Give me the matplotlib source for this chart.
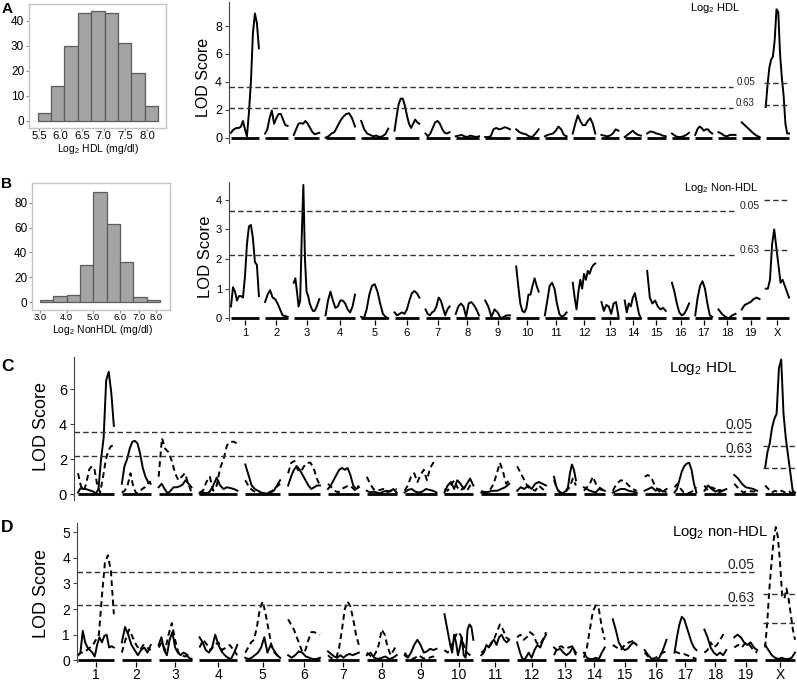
import matplotlib
matplotlib.use("Agg")
import matplotlib.pyplot as plt
import numpy as np

plt.rcParams['font.family'] = ['Liberation Sans', 'DejaVu Sans']
plt.rcParams['mathtext.fontset'] = 'custom'
plt.rcParams['mathtext.rm'] = 'Liberation Sans'

# ---------------- data ----------------
chrom_names = ['1', '2', '3', '4', '5', '6', '7', '8', '9', '10', '11', '12', '13',
               '14', '15', '16', '17', '18', '19', 'X']
chrom_len = [36, 29, 33, 38, 35, 32, 31, 30, 32, 29, 28, 29, 22, 21, 24, 22, 22, 22, 23, 30]
chrom_gap = 8

hdl_edges = [5.47, 5.78, 6.09, 6.40, 6.71, 7.02, 7.33, 7.64, 7.95, 8.26]
hdl_counts = [3, 14, 30, 43, 44, 43, 31, 19, 6]
hdl_ticks = [5.5, 6.0, 6.5, 7.0, 7.5, 8.0]

nonhdl_edges = [3.0, 3.5, 4.0, 4.5, 5.0, 5.5, 6.0, 6.5, 7.0, 7.5]
nonhdl_counts = [2, 5, 6, 30, 89, 63, 32, 4, 2]
nonhdl_tick_pos = [3.0, 4.0, 5.0, 6.0, 6.72, 7.36]
nonhdl_tick_lab = ['3.0', '4.0', '5.0', '6.0', '7.0', '8.0']

lod_A = [
    [0.35, 0.55, 0.65, 0.7, 0.7, 0.8, 1.2, 0.6, 0.1, 1.8, 4.0, 7.5, 8.9, 8.2, 6.4],
    [0.3, 0.6, 1.4, 1.95, 1.0, 1.4, 1.7, 1.7, 1.3, 0.9, 0.85],
    [0.2, 0.6, 1.0, 1.05, 1.0, 1.2, 1.0, 0.7, 0.4, 0.25, 0.3, 0.35],
    [0.0, 0.1, 0.3, 0.4, 0.8, 1.2, 1.5, 1.7, 1.75, 1.4, 0.8],
    [1.2, 0.6, 0.3, 0.2, 0.1, 0.15, 0.05, 0.1, 0.25, 0.65],
    [0.5, 1.5, 2.4, 2.8, 2.8, 2.3, 1.6, 1.0, 0.7, 1.0, 1.3, 1.1, 1.0],
    [0.3, 0.1, 0.3, 0.7, 1.1, 1.2, 1.0, 0.6, 0.35, 0.3, 0.4],
    [0.1, 0.15, 0.2, 0.1, 0.05, 0.15, 0.1, 0.05, 0.1],
    [0.05, 0.05, 0.1, 0.6, 0.7, 0.6, 0.65, 0.75, 0.7, 0.6],
    [0.6, 0.4, 0.3, 0.25, 0.1, 0.05, 0.3, 0.6],
    [0.1, 0.2, 0.25, 0.3, 0.5, 0.8, 0.6, 0.2, 0.1],
    [0.3, 1.0, 1.6, 1.2, 0.9, 0.9, 1.2, 1.4, 1.0, 0.3],
    [0.2, 0.15, 0.1, 0.15, 0.3, 0.6, 0.5],
    [0.05, 0.2, 0.35, 0.5, 0.3, 0.2, 0.15],
    [0.3, 0.45, 0.4, 0.3, 0.25, 0.15, 0.1],
    [0.3, 0.15, 0.05, 0.05, 0.1, 0.2, 0.35],
    [0.2, 0.6, 0.8, 0.7, 0.5, 0.6, 0.6, 0.4, 0.3],
    [0.4, 0.3, 0.15, 0.1, 0.2, 0.2, 0.2],
    [1.1, 0.9, 0.7, 0.5, 0.3, 0.15, 0.05],
    [2.2, 3.8, 5.0, 5.6, 5.8, 7.0, 9.2, 9.0, 6.0, 4.3, 3.0, 1.0, 0.3, 0.3],
]

lod_B = [
    [0.4, 1.05, 0.9, 0.6, 0.75, 0.75, 0.7, 1.4, 2.5, 3.1, 3.15, 2.7, 1.9, 1.8, 0.75],
    [0.55, 0.8, 0.95, 0.7, 0.65, 0.5, 0.3, 0.1, 0.08, 0.05],
    [1.2, 1.35, 0.9, 0.4, 0.6, 2.8, 4.5, 2.0, 0.9, 0.75, 0.5, 0.35, 0.25, 0.25, 0.35, 0.5, 0.65],
    [0.1, 0.6, 0.9, 0.6, 0.35, 0.4, 0.6, 0.6, 0.5, 0.3, 0.2, 0.4, 0.8],
    [0.05, 0.0, 0.3, 0.8, 1.1, 1.15, 0.9, 0.5, 0.15, 0.05, 0.0],
    [0.2, 0.1, 0.15, 0.2, 0.15, 0.3, 0.6, 0.85, 0.92, 0.85, 0.7],
    [0.3, 0.15, 0.1, 0.2, 0.25, 0.4, 0.7, 0.6, 0.35, 0.1, 0.3, 0.4],
    [0.15, 0.4, 0.5, 0.4, 0.05, 0.5, 0.55, 0.45, 0.3, 0.1],
    [0.6, 0.4, 0.05, 0.3, 0.2, 0.0, 0.05, 0.1, 0.1],
    [1.75, 1.1, 0.5, 0.25, 0.2, 0.35, 0.8, 0.8, 1.1, 1.35, 1.1, 0.9],
    [0.1, 0.6, 1.1, 1.2, 1.0, 0.5, 0.15, 0.05, 0.1, 0.2],
    [1.2, 0.7, 0.3, 0.9, 1.3, 1.0, 1.5, 1.3, 1.6, 1.5, 1.7, 1.8, 1.85],
    [0.55, 0.25, 0.45, 0.4, 0.15, 0.5, 0.55, 0.05],
    [0.6, 0.2, 0.5, 0.4, 0.7, 0.85, 0.5, 0.15, 0.0],
    [1.6, 0.7, 0.5, 0.6, 0.4, 0.3, 0.35, 0.25],
    [1.2, 0.9, 0.5, 0.2, 0.1, 0.15, 0.3, 0.5],
    [0.1, 0.7, 1.1, 1.25, 1.0, 0.5, 0.1, 0.05],
    [0.3, 0.15, 0.05, 0.0, 0.1, 0.15],
    [0.3, 0.45, 0.5, 0.55, 0.65, 0.7, 0.65],
    [1.0, 1.0, 1.3, 2.5, 3.0, 2.4, 1.8, 1.2, 1.3, 1.1, 0.9, 0.7],
]

lod_C_solid = [
    [0.1, 0.35, 0.3, 0.3, 0.25, 0.2, 0.15, 0.05, 0.3, 2.0, 3.2, 6.5, 7.0, 5.8, 3.9],
    [0.6, 1.6, 2.0, 2.6, 3.0, 3.05, 2.9, 2.3, 1.5, 1.0, 0.7, 0.6],
    [0.4, 0.6, 0.3, 0.05, 0.2, 0.4, 0.4, 0.45, 0.55, 0.8, 0.6, 0.4],
    [0.05, 0.1, 0.05, 0.15, 0.5, 0.95, 0.5, 0.3, 0.4, 0.35, 0.3, 0.2],
    [1.7, 1.1, 0.5, 0.3, 0.2, 0.1, 0.05, 0.05, 0.1, 0.2, 0.5, 0.8],
    [0.5, 1.0, 1.4, 1.6, 1.4, 1.1, 0.8, 0.5, 0.3, 0.4, 0.5, 0.5],
    [0.3, 0.5, 0.8, 1.1, 1.4, 1.5, 1.4, 1.5, 1.1, 0.5, 0.3, 0.4],
    [0.2, 0.1, 0.15, 0.1, 0.05, 0.15, 0.2, 0.15, 0.3, 0.1],
    [0.1, 0.25, 0.3, 0.15, 0.1, 0.15, 0.3, 0.25, 0.2, 0.1],
    [0.1, 0.5, 0.7, 0.3, 0.8, 0.6, 0.3, 0.6, 0.9, 0.5],
    [0.1, 0.1, 0.15, 0.2, 0.2, 0.3, 0.4, 0.6],
    [0.2, 0.4, 0.3, 0.5, 0.3, 0.6, 0.7, 0.6, 0.5],
    [1.0, 0.5, 0.2, 0.1, 0.05, 0.1, 0.2, 0.4, 1.2, 1.7, 1.4, 0.8],
    [0.4, 0.3, 0.2, 0.15, 0.1, 0.3, 0.25, 0.2],
    [0.1, 0.2, 0.3, 0.3, 0.2, 0.15, 0.1],
    [0.2, 0.3, 0.4, 0.2, 0.3, 0.15, 0.3],
    [0.1, 0.3, 0.8, 1.3, 1.6, 1.75, 1.8, 1.4, 0.6, 0.1],
    [0.2, 0.5, 0.3, 0.15, 0.25, 0.2, 0.3],
    [1.1, 0.9, 0.6, 0.4, 0.35, 0.3, 0.2],
    [1.5, 2.4, 2.9, 3.8, 4.3, 4.6, 7.2, 7.7, 4.6, 3.2, 2.2, 1.2, 0.2, 0.1],
]

lod_C_dashed = [
    [1.2, 0.5, 0.2, 0.6, 1.4, 1.6, 1.4, 0.5, 0.1, 0.9, 1.9, 2.5, 2.75, 2.8],
    [0.1, 0.2, 0.5, 1.2, 0.4, 0.05, 0.1, 0.3, 0.4, 0.6, 0.75],
    [1.0, 3.2, 2.6, 2.4, 1.9, 1.2, 0.8, 1.0, 1.2, 0.6, 0.1],
    [0.1, 0.2, 0.7, 1.0, 0.2, 0.5, 1.5, 2.0, 2.8, 3.0, 3.0, 2.9],
    [0.8, 0.4, 0.2, 0.1, 0.05, 0.05, 0.1, 0.2, 0.4, 0.6],
    [1.2, 1.8, 1.9, 1.4, 1.3, 1.6, 1.8, 1.8, 1.5, 0.9, 0.5],
    [0.6, 0.4, 0.2, 0.1, 0.3, 0.4, 0.5, 0.4, 0.2, 0.5],
    [1.0, 0.6, 0.3, 0.2, 0.25, 0.3, 0.1, 0.2, 0.25, 0.3],
    [0.2, 0.5, 1.0, 1.2, 0.7, 1.1, 1.4, 0.8, 1.5, 1.8, 1.6],
    [0.3, 0.2, 0.5, 0.8, 0.4, 0.2, 0.4, 0.2, 0.5, 0.3],
    [0.2, 0.1, 0.2, 0.3, 0.6, 1.2, 1.8, 1.3, 0.6, 0.8],
    [1.6, 1.2, 0.8, 0.4, 0.3, 0.2, 0.5, 0.3, 0.2],
    [0.8, 0.3, 0.1, 0.1, 0.2, 0.4, 0.9, 0.5],
    [0.2, 0.4, 0.6, 1.0, 0.6, 0.4, 0.3, 0.15],
    [0.2, 0.6, 0.8, 0.75, 0.5, 0.3, 0.2],
    [1.0, 1.1, 1.0, 0.6, 0.3, 0.1, 0.2, 0.1],
    [0.4, 0.6, 0.3, 0.1, 0.05, 0.1, 0.2, 0.4],
    [0.5, 0.2, 0.4, 0.3, 0.1, 0.2, 0.3],
    [0.6, 0.3, 0.1, 0.2, 0.15, 0.2],
    [0.5, 0.3, 0.1, 0.2, 0.1, 0.2, 0.1, 0.2, 0.05, 0.2],
]

lod_D_solid = [
    [0.2, 0.3, 1.15, 0.7, 0.5, 0.4, 0.3, 0.15, 0.6, 0.9, 0.7, 0.95, 1.0, 0.5, 0.55, 0.5],
    [0.7, 1.3, 1.0, 0.6, 0.4, 0.2, 0.4, 0.5, 0.3, 0.6],
    [0.6, 0.9, 0.4, 0.2, 0.8, 1.1, 0.5, 0.3, 0.2, 0.3, 0.25, 0.1, 0.05],
    [0.9, 0.7, 0.4, 0.3, 0.5, 1.0, 0.6, 0.35, 0.2, 0.1, 0.05, 0.3, 0.6],
    [0.1, 0.05, 0.1, 0.2, 0.3, 0.5, 0.9, 0.3, 0.6, 0.4, 0.2, 0.1],
    [0.2, 0.1, 0.2, 0.35, 0.3, 0.15, 0.1, 0.05, 0.05, 0.1],
    [0.35, 0.25, 0.15, 0.1, 0.2, 0.1, 0.2, 0.25, 0.2, 0.25, 0.3],
    [0.2, 0.3, 0.1, 0.05, 0.1, 0.15, 0.05, 0.1, 0.2],
    [0.2, 0.1, 0.3, 0.6, 0.8, 0.6, 0.3, 0.35, 0.45, 0.4, 0.45],
    [1.8, 1.4, 1.0, 0.6, 0.3, 1.0, 0.7, 0.2, 0.5, 0.9, 0.2, 0.1, 1.2, 1.4, 1.3, 0.8],
    [0.2, 0.3, 0.6, 0.5, 0.7, 0.8, 0.6, 0.9, 1.0, 0.8, 0.7, 0.8],
    [0.7, 0.3, 0.0, 0.1, 0.3, 0.1, 0.4, 0.6, 0.5, 0.8, 1.0],
    [0.5, 0.4, 0.45, 0.3, 0.2, 0.3, 0.5, 0.3],
    [0.3, 0.1, 0.05, 0.05, 0.1, 0.05, 0.3, 0.5],
    [1.6, 1.2, 0.7, 0.5, 0.4, 0.45, 0.6, 0.7, 0.6],
    [0.4, 0.2, 0.05, 0.0, 0.1, 0.4, 0.8],
    [0.3, 0.9, 1.4, 1.7, 1.6, 1.3, 1.0, 0.7, 0.5, 0.4],
    [1.2, 0.9, 0.5, 0.3, 0.2, 0.3, 0.2, 0.4],
    [0.9, 1.0, 0.9, 0.7, 0.6, 0.7, 0.5, 0.4],
    [0.6, 0.4, 0.2, 0.1, 0.05, 0.1, 0.05, 0.05, 0.1, 0.3],
]

lod_D_dashed = [
    [0.2, 0.3, 0.3, 0.4, 0.5, 0.6, 0.8, 1.0, 2.5, 3.8, 4.1, 3.5, 1.8],
    [0.3, 0.8, 1.2, 0.9, 0.6, 0.4, 0.6, 0.5, 0.4],
    [0.5, 0.7, 0.4, 1.0, 1.45, 0.8, 0.3, 0.2, 0.15, 0.2, 0.05],
    [0.5, 0.8, 0.6, 0.4, 0.6, 0.7, 0.4, 0.5, 0.6, 0.4, 0.2],
    [0.3, 0.5, 0.7, 0.8, 1.3, 2.0, 2.3, 1.8, 1.2, 0.6, 0.3, 0.2, 0.1],
    [1.6, 1.4, 1.2, 0.9, 0.6, 0.3, 0.4, 0.8, 1.1, 1.1, 1.05, 1.0],
    [0.2, 0.1, 0.05, 0.1, 0.5, 1.2, 2.0, 2.3, 2.1, 1.6, 1.0, 0.6],
    [0.3, 0.2, 0.1, 0.3, 0.6, 1.2, 1.0, 0.5, 0.2, 0.4, 0.6],
    [0.3, 0.1, 0.05, 0.1, 0.2, 0.1, 0.05, 0.1, 0.15, 0.1],
    [0.4, 0.3, 0.5, 0.8, 1.1, 1.0, 0.6, 0.3, 0.2, 0.1],
    [0.3, 0.4, 0.5, 0.6, 0.8, 1.1, 1.4, 1.2, 0.9, 0.8],
    [0.9, 1.0, 0.8, 0.9, 1.1, 1.0, 0.7, 0.6, 0.8, 1.1],
    [0.2, 0.5, 0.55, 0.45, 0.5, 0.55, 0.2],
    [0.1, 0.5, 1.2, 1.9, 2.15, 2.0, 1.3, 0.8],
    [0.6, 0.5, 0.4, 0.6, 0.7, 0.75, 0.65],
    [0.3, 0.15, 0.05, 0.1, 0.2, 0.3, 0.35],
    [0.35, 0.3, 0.25, 0.25, 0.2, 0.15, 0.1, 0.05],
    [0.3, 0.4, 0.7, 0.5, 0.6, 0.8, 1.0, 0.9],
    [0.5, 0.6, 0.5, 0.7, 0.6, 0.4, 0.3],
    [0.5, 1.5, 2.8, 3.8, 4.7, 5.2, 4.8, 3.8, 2.5, 2.4, 2.8, 2.4, 1.8, 1.2, 0.8],
]

# significance thresholds (autosomes, X) for p = 0.05 and 0.63
thr_A = {'0.05': (3.60, 3.94), '0.63': (2.15, 2.34)}
thr_B = {'0.05': (3.62, 4.00), '0.63': (2.14, 2.32)}
thr_C = {'0.05': (3.56, 2.76), '0.63': (2.17, 1.49)}
thr_D = {'0.05': (3.46, 2.58), '0.63': (2.15, 1.47)}

# ---------------- figure ----------------
W, H = 797, 683
fig = plt.figure(figsize=(W / 100, H / 100), dpi=100)


def rect(l, t, r, b):
    return [l / W, 1 - b / H, (r - l) / W, (b - t) / H]


def fig_xy(x, y):
    return x / W, 1 - y / H


starts = np.concatenate([[0], np.cumsum(np.array(chrom_len) + chrom_gap)[:-1]])
ends = starts + np.array(chrom_len)
centers = (starts + ends) / 2
T = ends[-1]


def histogram(l, t, r, b, edges, counts, xlim, ylim, xt, xtl, yt, xfs):
    ax = fig.add_axes(rect(l, t, r, b))
    ax.bar(edges[:-1], counts, width=np.diff(edges), align='edge',
           color='#a4a4a4', edgecolor='#5c5c5c', linewidth=0.9)
    ax.set_xlim(*xlim)
    ax.set_ylim(*ylim)
    ax.set_xticks(xt)
    ax.set_xticklabels(xtl)
    ax.set_yticks(yt)
    for s in ax.spines.values():
        s.set_color('#c4c4c4')
        s.set_linewidth(1.0)
    ax.tick_params(axis='y', labelsize=8.5, length=2, color='#8a8a8a', pad=1.5)
    ax.tick_params(axis='x', labelsize=xfs, length=2, color='#8a8a8a', pad=0.3)
    return ax


histogram(29, 4, 166, 128.3, np.array(hdl_edges), hdl_counts, (5.27, 8.44), (-3.05, 46.8),
          hdl_ticks, ['%.1f' % v for v in hdl_ticks], [0, 10, 20, 30, 40], 8.2)
fig.text(*fig_xy(97.5, 149.5), 'Log$_\\mathregular{2}$ HDL (mg/dl)', ha='center', va='center', fontsize=7.5)

histogram(32, 183.3, 170, 310, np.array(nonhdl_edges), nonhdl_counts, (2.7, 7.875), (-6.2, 95.6),
          nonhdl_tick_pos, nonhdl_tick_lab, [0, 20, 40, 60, 80], 6.8)
fig.text(*fig_xy(102, 330), 'Log$_\\mathregular{2}$ NonHDL (mg/dl)', ha='center', va='center', fontsize=7.5)


def lod_panel(l, t, r, b, ylim, c0, c1, yticks, series, thr, line_end_px, lab_right_px,
              tick_fs, thr_fs, ylabel_fs, ylabel_xy, show_xlabels=False, xpad=2.5, lw=1.4):
    ax = fig.add_axes(rect(l, t, r, b))
    k = (c1 - c0) / T

    def px2g(px):
        return (px - c0) / k

    ax.set_xlim(px2g(l), px2g(r))
    ax.set_ylim(*ylim)
    for sname in ['top', 'right', 'bottom']:
        ax.spines[sname].set_visible(False)
    ax.spines['left'].set_color('#444444')
    ax.spines['left'].set_linewidth(0.8)
    ax.set_yticks(yticks)
    ax.tick_params(axis='y', labelsize=tick_fs, length=3, color='#444444', pad=2)
    if show_xlabels:
        ax.set_xticks(centers)
        ax.set_xticklabels(chrom_names)
        ax.tick_params(axis='x', labelsize=tick_fs, length=3.5, width=0.9, color='black', pad=xpad)
    else:
        ax.set_xticks([])
    # chromosome baselines
    for s, e in zip(starts, ends):
        ax.plot([s, e], [0, 0], color='black', lw=2.0, solid_capstyle='butt', clip_on=False)
    # LOD curves
    for vals_list, ls in series:
        for i, vals in enumerate(vals_list):
            x = np.linspace(starts[i], ends[i], len(vals))
            ax.plot(x, vals, color='black', lw=lw, linestyle=ls, clip_on=False)
    # thresholds
    x_left = px2g(l)
    for lab, (ya, yx) in thr.items():
        ax.plot([x_left, px2g(line_end_px)], [ya, ya], color='#333333', lw=1.0,
                linestyle=(0, (4, 2.2)))
        ax.plot([starts[-1] - 2 / k, ends[-1]], [yx, yx], color='#333333', lw=1.0,
                linestyle=(0, (4, 2.2)))
        ax.text(px2g(lab_right_px), ya, lab, ha='right', va='bottom', fontsize=thr_fs,
                color='#222222')
    fig.text(*fig_xy(*ylabel_xy), 'LOD Score', rotation=90, ha='center', va='center',
             fontsize=ylabel_fs)
    return ax


lod_panel(229, 2, 793, 142.6, (-0.35, 9.72), 231, 789, [0, 2, 4, 6, 8],
          [(lod_A, '-')], thr_A, 733, 755, 9, 7, 11.5, (203.3, 77.5))
fig.text(*fig_xy(715, 8), 'Log$_\\mathregular{2}$ HDL', ha='center', va='center', fontsize=8)

lod_panel(229, 182, 793, 319.8, (-0.05, 4.6), 231, 789, [0, 1, 2, 3, 4],
          [(lod_B, '-')], thr_B, 735, 760, 8, 7.5, 12, (205, 256.7), show_xlabels=True)
fig.text(*fig_xy(720.7, 187.7), 'Log$_\\mathregular{2}$ Non-HDL', ha='center', va='center', fontsize=8)

lod_panel(74, 356.7, 797, 499.5, (-0.3, 7.86), 78, 795, [0, 2, 4, 6],
          [(lod_C_solid, '-'), (lod_C_dashed, (0, (3, 2)))], thr_C, 754, 752, 10.5, 10, 13,
          (41.7, 426.7))
fig.text(*fig_xy(703, 368.3), 'Log$_\\mathregular{2}$ HDL', ha='center', va='center', fontsize=11)

lod_panel(77, 522.7, 797, 661.6, (-0.05, 5.37), 78, 795, [0, 1, 2, 3, 4, 5],
          [(lod_D_solid, '-'), (lod_D_dashed, (0, (3, 2)))], thr_D, 754, 754, 10, 10, 13,
          (41.7, 594), show_xlabels=True, xpad=0.8)
fig.text(*fig_xy(720, 532.3), 'Log$_\\mathregular{2}$ non-HDL', ha='center', va='center', fontsize=10.7)

for letter, (px, py, fs) in {'A': (7.5, 9, 11), 'B': (6.5, 184, 11),
                             'C': (8, 366.7, 12.5), 'D': (7, 527.5, 12.5)}.items():
    fig.text(*fig_xy(px, py), letter, ha='center', va='center', fontsize=fs, fontweight='bold')

fig.savefig('out.png', dpi=100)
